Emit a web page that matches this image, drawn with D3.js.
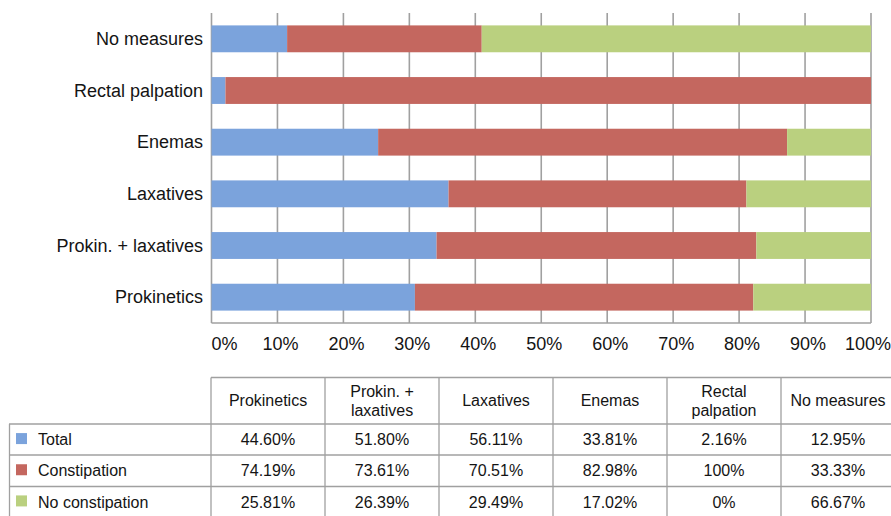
<!DOCTYPE html>
<html>
<head>
<meta charset="utf-8">
<script src="https://cdn.jsdelivr.net/npm/d3@7"></script>
<style>
  html, body { margin: 0; padding: 0; background: #fff; }
  svg { display: block; font-family: "Liberation Sans", Arial, Helvetica, sans-serif; }
</style>
</head>
<body>
<svg id="chart" width="891" height="516"></svg>
<script>
// ---- data ----
const categories = ["Prokinetics", "Prokin. + laxatives", "Laxatives", "Enemas", "Rectal palpation", "No measures"];
const headerLines = [["Prokinetics"], ["Prokin. +", "laxatives"], ["Laxatives"], ["Enemas"], ["Rectal", "palpation"], ["No measures"]];
const seriesNames = ["Total", "Constipation", "No constipation"];
const totalValues = [44.60, 51.80, 56.11, 33.81, 2.16, 12.95];
const constipationValues = [74.19, 73.61, 70.51, 82.98, 100, 33.33];
const noConstipationValues = [25.81, 26.39, 29.49, 17.02, 0, 66.67];
const tableText = [
  ["44.60%", "51.80%", "56.11%", "33.81%", "2.16%", "12.95%"],
  ["74.19%", "73.61%", "70.51%", "82.98%", "100%", "33.33%"],
  ["25.81%", "26.39%", "29.49%", "17.02%", "0%", "66.67%"]
];
const tickValues = [0, 0.1, 0.2, 0.3, 0.4, 0.5, 0.6, 0.7, 0.8, 0.9, 1.0];
const colors = ["#7ba3dc", "#c4675f", "#bad07f"];

// ---- build ----
const rows = categories.map((c, i) => ({
  cat: c,
  "Total": totalValues[i],
  "Constipation": constipationValues[i],
  "No constipation": noConstipationValues[i]
}));
const stacked = d3.stack().keys(seriesNames).offset(d3.stackOffsetExpand)(rows);

const svg = d3.select("#chart");
const gridColor = "#a0a0a0";
const textColor = "#141414";

const x = d3.scaleLinear().domain([0, 1]).range([211.5, 871]);
const y = d3.scaleBand().domain(categories.slice().reverse()).range([13, 323])
  .paddingInner(0.48).paddingOuter(0.24);
const color = d3.scaleOrdinal().domain(seriesNames).range(colors);

// gridlines
svg.append("g").selectAll("line").data(tickValues).join("line")
  .attr("x1", d => x(d)).attr("x2", d => x(d))
  .attr("y1", 13).attr("y2", 323)
  .attr("stroke", gridColor).attr("stroke-width", 1.6);
svg.append("line")
  .attr("x1", x(0)).attr("x2", x(1)).attr("y1", 323).attr("y2", 323)
  .attr("stroke", gridColor).attr("stroke-width", 1.6);

// bars
svg.append("g").selectAll("g").data(stacked).join("g")
  .attr("fill", d => color(d.key))
  .selectAll("rect").data(d => d).join("rect")
  .attr("x", d => x(d[0]))
  .attr("width", d => Math.max(0, x(d[1]) - x(d[0])))
  .attr("y", d => y(d.data.cat))
  .attr("height", y.bandwidth());

// category labels
svg.append("g").selectAll("text").data(categories).join("text")
  .attr("x", 203).attr("y", d => y(d) + y.bandwidth() / 2)
  .attr("dy", "0.35em").attr("text-anchor", "end")
  .attr("font-size", 18).attr("fill", textColor)
  .text(d => d);

// tick labels
const fmt = d3.format(".0%");
svg.append("g").selectAll("text").data(tickValues).join("text")
  .attr("x", d => d === 0 ? x(d) : (d === 1 ? 891 : x(d) + 3))
  .attr("y", 350)
  .attr("text-anchor", d => d === 0 ? "start" : (d === 1 ? "end" : "middle"))
  .attr("font-size", 18).attr("fill", textColor)
  .text(d => fmt(d));

// ---- table ----
const colX = d3.scaleBand().domain(categories).range([211, 895]);
const rowEdges = [377.5, 424, 455, 486.5, 518];
const rowY = d3.scaleBand().domain(seriesNames).range([424, 517.5]);
const tg = svg.append("g");
const lineAttrs = sel => sel.attr("stroke", gridColor).attr("stroke-width", 1.3).attr("fill", "none");

// horizontal lines
tg.append("line").attr("x1", 211).attr("x2", 895).attr("y1", rowEdges[0]).attr("y2", rowEdges[0]).call(lineAttrs);
rowEdges.slice(1, 4).forEach(yy => {
  tg.append("line").attr("x1", 9).attr("x2", 895).attr("y1", yy).attr("y2", yy).call(lineAttrs);
});
// vertical lines
tg.append("line").attr("x1", 9.5).attr("x2", 9.5).attr("y1", rowEdges[1]).attr("y2", 518).call(lineAttrs);
categories.forEach(c => {
  tg.append("line").attr("x1", colX(c)).attr("x2", colX(c)).attr("y1", rowEdges[0]).attr("y2", 518).call(lineAttrs);
});

// header text
categories.forEach((c, i) => {
  const lines = headerLines[i];
  const cx = colX(c) + colX.bandwidth() / 2;
  const cy = (rowEdges[0] + rowEdges[1]) / 2;
  lines.forEach((ln, j) => {
    tg.append("text")
      .attr("x", cx)
      .attr("y", cy + (j - (lines.length - 1) / 2) * 18.5)
      .attr("dy", "0.35em").attr("text-anchor", "middle")
      .attr("font-size", 16).attr("fill", textColor)
      .text(ln);
  });
});

// row legend + labels + values
seriesNames.forEach((s, r) => {
  const cy = rowY(s) + rowY.bandwidth() / 2;
  tg.append("rect").attr("x", 16).attr("y", cy - 6.5).attr("width", 11).attr("height", 11).attr("fill", color(s));
  tg.append("text").attr("x", 38).attr("y", cy).attr("dy", "0.35em")
    .attr("font-size", 16).attr("fill", textColor).text(s);
  categories.forEach((c, i) => {
    tg.append("text")
      .attr("x", colX(c) + colX.bandwidth() / 2)
      .attr("y", cy).attr("dy", "0.35em").attr("text-anchor", "middle")
      .attr("font-size", 16).attr("fill", textColor)
      .text(tableText[r][i]);
  });
});
</script>
</body>
</html>
